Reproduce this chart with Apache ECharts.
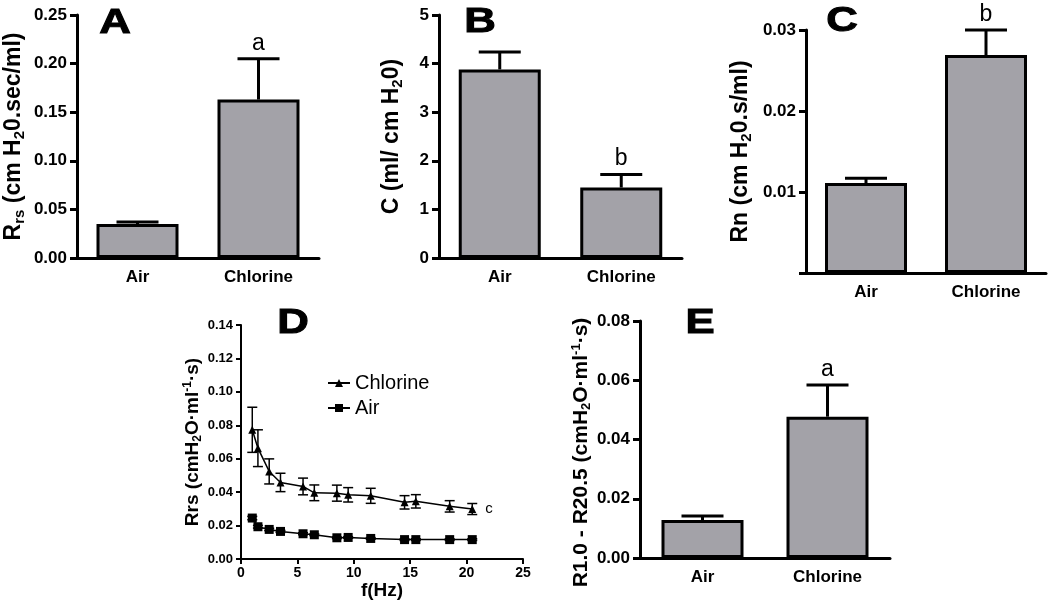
<!DOCTYPE html>
<html><head><meta charset="utf-8">
<script src="https://cdn.jsdelivr.net/npm/echarts@6/dist/echarts.min.js"></script>
<style>html,body{margin:0;padding:0;background:#fff}#c{width:1050px;height:605px}</style>
</head><body><div id="c"></div>
<script>
// ---- data ----
const groups = ['Air', 'Chlorine'];
const rrsMean = [0.035, 0.163];
const rrsErr = [0.002, 0.042];
const rrsSig = ['', 'a'];
const cMean = [3.88, 1.45];
const cErr = [0.36, 0.27];
const cSig = ['', 'b'];
const rnMean = [0.0111, 0.0269];
const rnErr = [0.0006, 0.0031];
const rnSig = ['', 'b'];
const freqHz = [1, 1.5, 2.5, 3.5, 5.5, 6.5, 8.5, 9.5, 11.5, 14.5, 15.5, 18.5, 20.5];
const chlorineRrs = [0.0773, 0.0663, 0.0524, 0.0458, 0.0434, 0.0396, 0.0394, 0.0384, 0.0378, 0.0339, 0.0345, 0.0315, 0.0299];
const chlorineErr = [0.0135, 0.011, 0.0075, 0.0055, 0.005, 0.0047, 0.0048, 0.0043, 0.0045, 0.004, 0.004, 0.0034, 0.0033];
const airRrs = [0.0245, 0.0193, 0.0177, 0.0165, 0.0151, 0.0145, 0.0127, 0.0129, 0.0123, 0.0116, 0.0116, 0.0116, 0.0116];
const airErr = [0.001, 0.0008, 0.0007, 0.0006, 0.0006, 0.0005, 0.0005, 0.0005, 0.0005, 0.0005, 0.0005, 0.0005, 0.0005];
const dSig = 'c';
const diffMean = [0.0128, 0.0477];
const diffErr = [0.0014, 0.0107];
const diffSig = ['', 'a'];
const panelLetters = ['A', 'B', 'C', 'D', 'E'];

// ---- styles ----
const FONT = '"Liberation Sans", Arial, sans-serif';
const BAR_FILL = '#a3a2a8';

function barErr(sig, capHalf) {
  return function (params, api) {
    const i = api.value(0), m = api.value(1), e = api.value(2);
    const base = api.coord([i, m]), top = api.coord([i, m + e]);
    const st = { stroke: '#000', lineWidth: 3 };
    const ch = [
      { type: 'line', shape: { x1: base[0], y1: base[1], x2: top[0], y2: top[1] }, style: st },
      { type: 'line', shape: { x1: top[0] - capHalf, y1: top[1], x2: top[0] + capHalf, y2: top[1] }, style: st }
    ];
    const s = sig[params.dataIndex];
    if (s) ch.push({ type: 'text', x: top[0], y: top[1] - 4,
      style: { text: s, fill: '#000', font: 'normal 23px ' + FONT, align: 'center', verticalAlign: 'bottom' } });
    return { type: 'group', children: ch };
  };
}
function lineErr(params, api) {
  const x = api.value(0), m = api.value(1), e = api.value(2);
  const lo = api.coord([x, m - e]), hi = api.coord([x, m + e]);
  const st = { stroke: '#000', lineWidth: 1.5 };
  const c = 5;
  return { type: 'group', children: [
    { type: 'line', shape: { x1: lo[0], y1: lo[1], x2: hi[0], y2: hi[1] }, style: st },
    { type: 'line', shape: { x1: hi[0] - c, y1: hi[1], x2: hi[0] + c, y2: hi[1] }, style: st },
    { type: 'line', shape: { x1: lo[0] - c, y1: lo[1], x2: lo[0] + c, y2: lo[1] }, style: st }
  ] };
}

const nameRich = (fs, sub) => ({
  b: { fontSize: fs, fontWeight: 'bold', fontFamily: FONT, color: '#000' },
  s: { fontSize: sub, fontWeight: 'bold', fontFamily: FONT, color: '#000', padding: [Math.round(sub * 0.8), 0, 0, 0] },
  p: { fontSize: sub, fontWeight: 'bold', fontFamily: FONT, color: '#000', padding: [0, 0, Math.round(sub * 0.8), 0] }
});

function catAxis(gi) {
  return {
    type: 'category', gridIndex: gi, data: groups,
    axisLine: { lineStyle: { color: '#000', width: 3 } },
    axisTick: { alignWithLabel: true, length: 7, lineStyle: { color: '#000', width: 3 } },
    axisLabel: { color: '#000', fontSize: 17, fontWeight: 'bold', fontFamily: FONT, margin: 11 }
  };
}
function valAxis(gi, min, max, interval, fmt, name, rich, gap, fs, lw, extra) {
  return Object.assign({
    type: 'value', gridIndex: gi, min: min, max: max, interval: interval,
    splitLine: { show: false },
    axisLine: { show: true, lineStyle: { color: '#000', width: lw } },
    axisTick: { show: true, length: lw === 3 ? 7 : 5, lineStyle: { color: '#000', width: lw } },
    axisLabel: { color: '#000', fontSize: fs, fontWeight: 'bold', fontFamily: FONT, margin: lw === 3 ? 10 : 8, formatter: fmt },
    name: name, nameLocation: 'middle', nameRotate: 90, nameGap: gap,
    nameTextStyle: { rich: rich }
  }, extra || {});
}

const grids = [
  { left: 77, top: 15, width: 242, height: 243 },
  { left: 439, top: 15, width: 243, height: 243 },
  { left: 806, top: 30, width: 240, height: 243 },
  { left: 241, top: 325, width: 282, height: 234 },
  { left: 640, top: 321, width: 250, height: 237 }
];
const letterPos = [[115, 23], [480, 22], [842, 21], [293, 323], [700, 323]];

const barSeries = (gi, mean) => ({
  type: 'bar', xAxisIndex: gi, yAxisIndex: gi, data: mean, barWidth: 82,
  itemStyle: { color: BAR_FILL, borderColor: '#000', borderWidth: 3 }, z: 2
});
const errSeries = (gi, mean, err, sig) => ({
  type: 'custom', xAxisIndex: gi, yAxisIndex: gi, z: 3,
  data: mean.map((m, i) => [i, m, err[i]]),
  encode: { x: 0, y: 1 },
  renderItem: barErr(sig, 21)
});

const option = {
  animation: false,
  backgroundColor: '#fff',
  grid: grids,
  xAxis: [
    catAxis(0), catAxis(1), catAxis(2),
    { type: 'value', gridIndex: 3, min: 0, max: 25, interval: 5, splitLine: { show: false },
      axisLine: { lineStyle: { color: '#000', width: 2 } },
      axisTick: { length: 5, lineStyle: { color: '#000', width: 2 } },
      axisLabel: { color: '#000', fontSize: 14, fontWeight: 'bold', fontFamily: FONT, margin: 7 },
      name: 'f(Hz)', nameLocation: 'middle', nameGap: 18,
      nameTextStyle: { color: '#000', fontSize: 19, fontWeight: 'bold', fontFamily: FONT, verticalAlign: 'top' } },
    catAxis(4)
  ],
  yAxis: [
    valAxis(0, 0, 0.25, 0.05, v => v.toFixed(2), '{b|R}{s|rs}{b| (cm H}{s|2}{b|0.sec/ml)}', nameRich(23, 15), 50, 17, 3),
    valAxis(1, 0, 5, 1, v => String(v), '{b|C (ml/ cm H}{s|2}{b|0)}', nameRich(23, 15), 34, 17, 3),
    valAxis(2, 0, 0.03, 0.01, v => v === 0 ? '' : v.toFixed(2), '{b|Rn (cm H}{s|2}{b|0.s/ml)}', nameRich(23, 15), 52, 17, 3),
    valAxis(3, 0, 0.14, 0.02, v => v.toFixed(2), '{b|Rrs (cmH}{s|2}{b|O·ml}{p|-1}{b|·s)}', nameRich(19, 12), 34, 13, 2),
    valAxis(4, 0, 0.08, 0.02, v => v.toFixed(2), '{b|R1.0 - R20.5 (cmH}{s|2}{b|O·ml}{p|-1}{b|·s)}', nameRich(21, 13), 42, 17, 3,
      { nameTextStyle: { rich: nameRich(21, 13), padding: [0, 26, 0, 0] } })
  ],
  legend: {
    data: ['Chlorine', 'Air'], orient: 'vertical', left: 322, top: 368, itemGap: 5,
    itemWidth: 22, itemHeight: 10,
    textStyle: { color: '#000', fontSize: 20, fontFamily: FONT }
  },
  graphic: panelLetters.map((t, i) => ({
    type: 'text', x: letterPos[i][0], y: letterPos[i][1], scaleX: 1.25,
    style: { text: t, fill: '#000', font: 'bold 35px ' + FONT, align: 'center', verticalAlign: 'middle',
      stroke: '#000', lineWidth: 1 }
  })),
  series: [
    barSeries(0, rrsMean), errSeries(0, rrsMean, rrsErr, rrsSig),
    barSeries(1, cMean), errSeries(1, cMean, cErr, cSig),
    barSeries(2, rnMean), errSeries(2, rnMean, rnErr, rnSig),
    { type: 'custom', xAxisIndex: 3, yAxisIndex: 3, z: 3,
      data: freqHz.map((f, i) => [f, chlorineRrs[i], chlorineErr[i]]), encode: { x: 0, y: 1 }, renderItem: lineErr },
    { name: 'Chlorine', type: 'line', xAxisIndex: 3, yAxisIndex: 3, z: 4,
      data: freqHz.map((f, i) => {
        const item = { value: [f, chlorineRrs[i]] };
        if (i === freqHz.length - 1) item.label = { show: true, formatter: dSig, position: 'right', distance: 9,
          color: '#000', fontSize: 15, fontFamily: FONT };
        return item;
      }),
      symbol: 'triangle', symbolSize: 8, lineStyle: { color: '#000', width: 1.5 }, itemStyle: { color: '#000' } },
    { type: 'custom', xAxisIndex: 3, yAxisIndex: 3, z: 3,
      data: freqHz.map((f, i) => [f, airRrs[i], airErr[i]]), encode: { x: 0, y: 1 }, renderItem: lineErr },
    { name: 'Air', type: 'line', xAxisIndex: 3, yAxisIndex: 3, z: 4,
      data: freqHz.map((f, i) => [f, airRrs[i]]),
      symbol: 'rect', symbolSize: 9, lineStyle: { color: '#000', width: 1.5 }, itemStyle: { color: '#000' } },
    barSeries(4, diffMean), errSeries(4, diffMean, diffErr, diffSig)
  ]
};
const chart = echarts.init(document.getElementById('c'), null, { renderer: 'canvas' });
chart.setOption(option);
</script></body></html>
